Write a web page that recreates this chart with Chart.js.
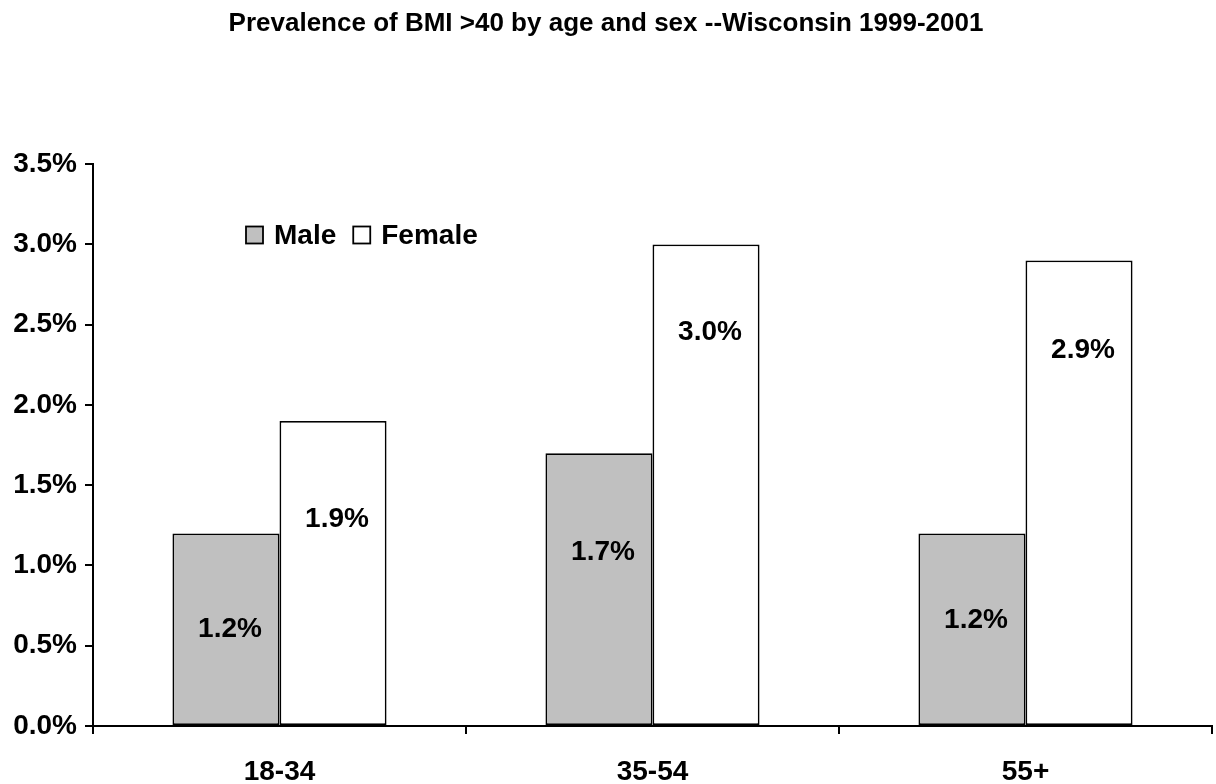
<!DOCTYPE html>
<html>
<head>
<meta charset="utf-8">
<script src="https://cdn.jsdelivr.net/npm/chart.js@4.4.0/dist/chart.umd.min.js"></script>
<style>
  html, body { margin: 0; padding: 0; background: #ffffff; }
  #wrap { width: 1216px; height: 784px; position: relative; }
</style>
</head>
<body>
<div id="wrap"><canvas id="c" width="1216" height="784"></canvas></div>
<script>
// ---- data ----
const categories = ['18-34', '35-54', '55+'];
const seriesNames = ['Male', 'Female'];
const maleValues = [1.2, 1.7, 1.2];
const femaleValues = [1.9, 3.0, 2.9];
const titleText = 'Prevalence of BMI >40 by age and sex --Wisconsin 1999-2001';

// ---- styling / placement (not data) ----
const FONT = '"Liberation Sans", Arial, sans-serif';
const maleColor = '#c0c0c0';
const femaleColor = '#ffffff';
// vertical anchor of each value label, in axis units
const labelAnchors = [
  [0.60, 1.08, 0.66],
  [1.29, 2.45, 2.34]
];

const valueLabels = {
  id: 'valueLabels',
  afterDatasetsDraw(chart) {
    const ctx = chart.ctx;
    const y = chart.scales.y;
    ctx.save();
    ctx.font = 'bold 28px ' + FONT;
    ctx.fillStyle = '#000';
    ctx.textAlign = 'center';
    ctx.textBaseline = 'middle';
    chart.data.datasets.forEach((ds, di) => {
      const meta = chart.getDatasetMeta(di);
      meta.data.forEach((bar, i) => {
        const v = ds.data[i];
        ctx.fillText(v.toFixed(1) + '%', bar.x + 4, y.getPixelForValue(labelAnchors[di][i]));
      });
    });
    ctx.restore();
  }
};

const innerLegend = {
  id: 'innerLegend',
  afterDraw(chart) {
    const ctx = chart.ctx;
    const a = chart.chartArea;
    ctx.save();
    ctx.font = 'bold 28px ' + FONT;
    ctx.textBaseline = 'middle';
    ctx.textAlign = 'left';
    let x = a.left + 153;
    const cy = 235;
    chart.data.datasets.forEach((ds) => {
      ctx.fillStyle = ds.backgroundColor;
      ctx.fillRect(x, cy - 8.5, 17, 17);
      ctx.lineWidth = 1.8;
      ctx.strokeStyle = '#000';
      ctx.strokeRect(x, cy - 8.5, 17, 17);
      ctx.fillStyle = '#000';
      ctx.fillText(ds.label, x + 28, cy + 1);
      x += 28 + ctx.measureText(ds.label).width + 17;
    });
    ctx.restore();
  }
};

new Chart(document.getElementById('c'), {
  type: 'bar',
  data: {
    labels: categories,
    datasets: [
      { label: seriesNames[0], data: maleValues, backgroundColor: maleColor,
        borderColor: '#000', borderWidth: 1.8, borderSkipped: false },
      { label: seriesNames[1], data: femaleValues, backgroundColor: femaleColor,
        borderColor: '#000', borderWidth: 1.8, borderSkipped: false }
    ]
  },
  options: {
    responsive: false,
    animation: false,
    devicePixelRatio: 1,
    categoryPercentage: 0.574,
    barPercentage: 1.0,
    layout: { padding: { left: 0, right: 4, top: 0, bottom: 0 } },
    plugins: {
      legend: { display: false },
      tooltip: { enabled: false },
      title: {
        display: true,
        text: titleText,
        color: '#000',
        font: { family: FONT, size: 26, weight: 'bold' },
        padding: { top: 8, bottom: 125 }
      }
    },
    scales: {
      x: {
        offset: true,
        grid: { display: true, offset: true, drawOnChartArea: false, drawTicks: true,
                tickLength: 8, color: '#000', lineWidth: 2 },
        border: { display: true, color: '#000', width: 2 },
        ticks: { color: '#000', font: { family: FONT, size: 28, weight: 'bold' }, padding: 21,
                 maxRotation: 0 },
        afterFit(s) { s.height = 58; }
      },
      y: {
        min: 0, max: 3.5,
        grid: { display: true, drawOnChartArea: false, drawTicks: true,
                tickLength: 8, color: '#000', lineWidth: 2 },
        border: { display: true, color: '#000', width: 2 },
        ticks: { stepSize: 0.5, color: '#000', padding: 8,
                 font: { family: FONT, size: 28, weight: 'bold' },
                 callback: (v) => Number(v).toFixed(1) + '%' },
        afterFit(s) { s.width = 93; }
      }
    }
  },
  plugins: [valueLabels, innerLegend]
});
</script>
</body>
</html>
